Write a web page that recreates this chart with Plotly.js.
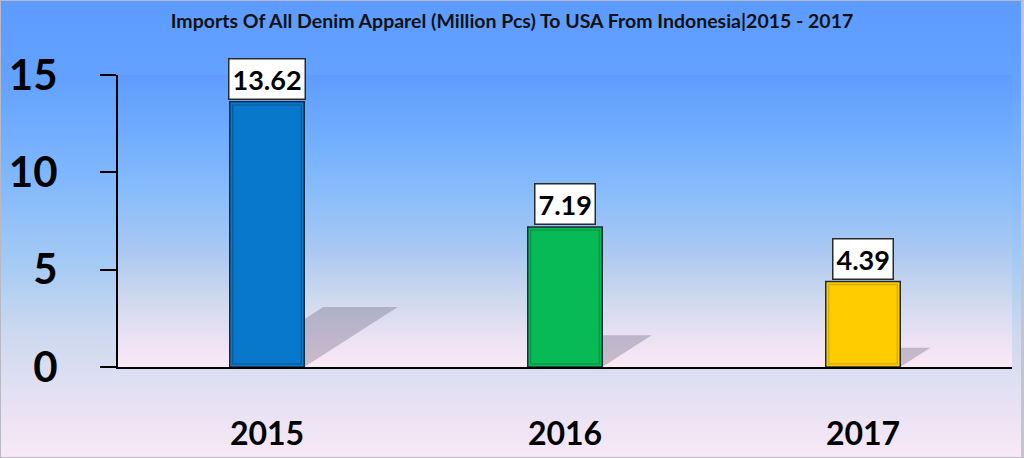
<!DOCTYPE html>
<html>
<head>
<meta charset="utf-8">
<script src="https://cdn.plot.ly/plotly-3.0.1.min.js"></script>
<style>
  html, body { margin: 0; padding: 0; }
  #wrap { position: relative; width: 1024px; height: 458px; overflow: hidden;
    background: linear-gradient(to bottom, #5c9bff 0%, #64a2ff 18%, #7fb7fd 38%, #a6cbf4 58%, #cbd8ef 72%, #e2e0f2 85%, #f8e8f7 100%); }
  #plotbg { position: absolute; left: 118px; top: 75px; width: 894px; height: 292px;
    background: linear-gradient(to bottom, #5f9cfd 0%, #72aefe 22%, #88bdfb 40%, #aac8f2 60%, #cdd8ee 76%, #eae2f3 90%, #fce8f6 100%); }
  #chart { position: absolute; left: 0; top: 0; width: 1024px; height: 458px; }
  #frame { position: absolute; left: 0; top: 0; width: 1024px; height: 458px; box-sizing: border-box;
    border: 1px solid #b9b9c6; border-right: 3px solid #c4c4d0; pointer-events: none; }
</style>
</head>
<body>
<div id="wrap">
  <div id="plotbg"></div>
  <div id="chart"></div>
  <div id="frame"></div>
</div>
<script>
const titleText = "Imports Of All Denim Apparel (Million Pcs) To USA From Indonesia|2015 - 2017";
const years = ["2015", "2016", "2017"];
const values = [13.62, 7.19, 4.39];
const barColors = ["#0878cc", "#07ba55", "#ffcc00"];
const innerColors = ["#07589a", "#05953f", "#d6a800"];
const yTicks = [0, 5, 10, 15];

const FONT = "Lato, 'Open Sans', sans-serif";
const xs = years.map((_, i) => i);
const BAR_W = 0.25;
const SHADOW_RISE = 0.226;   // shadow height as fraction of bar value
const SHADOW_SLANT = 0.102;  // x offset per data unit of shadow height

const traces = [
  {
    type: "bar", x: xs, y: values, width: BAR_W,
    marker: { color: barColors, line: { color: "#1d2c3c", width: 1.5 } },
    hoverinfo: "skip", showlegend: false
  },
  {
    type: "bar", x: xs, y: values.map(v => v - 0.32), base: 0.16, width: BAR_W - 0.02,
    marker: { color: "rgba(0,0,0,0)", line: { color: innerColors, width: 1.2 } },
    hoverinfo: "skip", showlegend: false
  }
];

const shapes = values.map((v, i) => {
  const xl = i - BAR_W / 2, xr = i + BAR_W / 2;
  const h = v * SHADOW_RISE, dx = h * SHADOW_SLANT;
  return {
    type: "path", xref: "x", yref: "y", layer: "below",
    path: `M ${xl},0 L ${xr},0 L ${xr + dx},${h} L ${xl + dx},${h} Z`,
    fillcolor: "rgba(95,90,115,0.32)", line: { width: 0 }
  };
});

const annotations = values.map((v, i) => ({
  x: i, y: v, xref: "x", yref: "y", yanchor: "bottom", yshift: 2,
  text: v.toFixed(2), showarrow: false,
  font: { family: FONT, size: 27, color: "#000", weight: 700 },
  bgcolor: "#ffffff", bordercolor: "#2a2a2a", borderwidth: 1.5, borderpad: 3
}));

const layout = {
  width: 1024, height: 458,
  margin: { l: 118, r: 12, t: 75, b: 91 },
  paper_bgcolor: "rgba(0,0,0,0)", plot_bgcolor: "rgba(0,0,0,0)",
  barmode: "overlay",
  title: { text: titleText, x: 0.5, xanchor: "center", y: 1 - 21 / 458, yref: "container", yanchor: "middle",
    font: { family: FONT, size: 19.5, color: "#111", weight: 700 } },
  xaxis: {
    range: [-0.5, 2.5], tickvals: xs, ticktext: years, showgrid: false, zeroline: false,
    showline: true, linecolor: "#000", linewidth: 2, ticks: "",
    tickfont: { family: FONT, size: 32, color: "#000", weight: 700 }, ticklabelstandoff: 38,
    fixedrange: true
  },
  yaxis: {
    range: [0, 15], tickvals: yTicks, showgrid: false, zeroline: false,
    showline: true, linecolor: "#000", linewidth: 2,
    ticks: "outside", ticklen: 16, tickwidth: 2, tickcolor: "#000",
    tickfont: { family: FONT, size: 42, color: "#000", weight: 700 }, ticklabelstandoff: 34,
    fixedrange: true
  },
  shapes: shapes,
  annotations: annotations,
  showlegend: false
};

Plotly.newPlot("chart", traces, layout, { displayModeBar: false, staticPlot: true });
</script>
</body>
</html>
